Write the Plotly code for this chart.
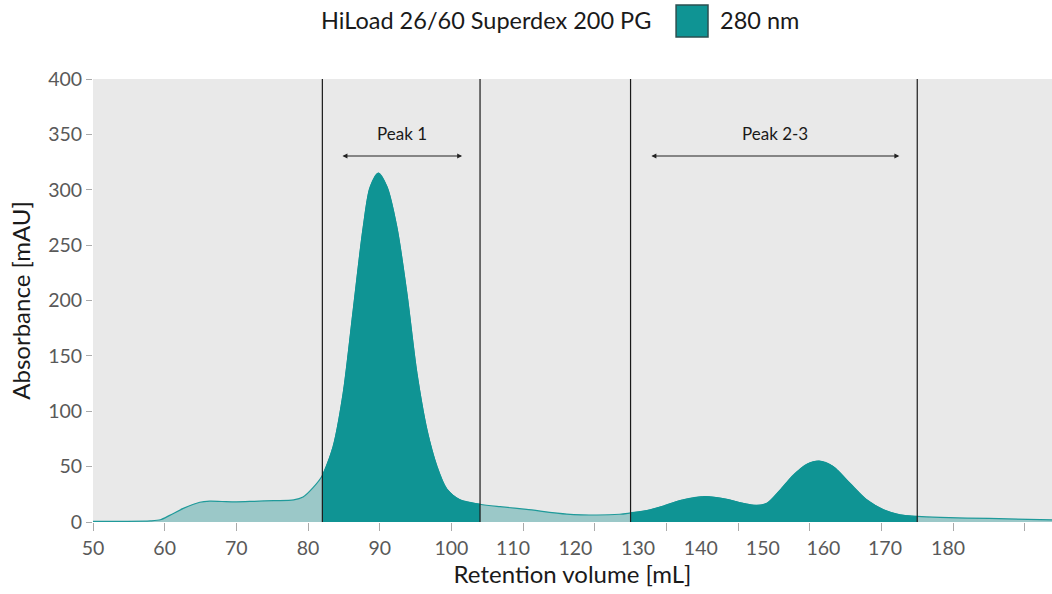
import plotly.graph_objects as go

# Chromatogram trace (retention volume in mL, absorbance at 280 nm in mAU)
volume_ml = [50, 54, 58, 59.4, 60.7, 62.6, 64.9, 66.3, 68, 70, 72.5, 75.2, 78, 79.3, 80.7,
             82, 83.5, 84.9, 86.3, 87.7, 88.65, 89.8, 91, 92.4, 93.8, 95.2, 96.6, 98, 99.35,
             101.2, 104, 106.8, 110.5, 116.1, 120.3, 123.5,
             125, 127.25, 129.6, 131.9, 135.4, 138.4, 140.7, 142.6, 144, 145.85, 147.7, 149.6,
             151.3, 153.3, 155.6, 157.95, 160.3, 162.6, 165, 168.2, 175, 183.8]
absorbance_mau = [0.5, 0.6, 1.0, 2, 6, 12.3, 17.8, 18.8, 18.5, 18.2, 18.7, 19.3, 19.9, 22.5, 31,
                  42, 68, 116, 191, 266, 302, 315, 303, 266, 206, 134, 83, 50, 30,
                  20, 16, 13.8, 11.4, 7.2, 6.3, 7.0,
                  8.2, 10.2, 14.4, 19.3, 22.9, 20.5, 16.8, 15, 16.8, 28.7, 42.2, 52.1,
                  55, 50, 35, 20, 11, 6.4, 5, 4.1, 3.2, 2.0]

# Collected fractions (start, end) in mL
fraction_bounds = [(82, 104), (125, 165)]
fraction_names = ["Peak 1", "Peak 2-3"]
# Extent of the double arrows drawn over each fraction
arrow_spans = [(84.6, 101.5), (127.7, 162.5)]

# Axis ticks and the printed tick labels
tick_marks = [50, 60, 70, 80, 90, 100, 110, 120, 130, 140, 150, 160, 170, 180]
label_text = ["50", "60", "70", "80", "90", "100", "110", "120", "130", "140", "150", "160", "170", "180"]
label_pos = [50, 60, 70, 80, 90, 100, 108.6, 117.3, 126.05, 134.8, 143.45, 151.9, 160.5, 169.3]
y_ticks = [0, 50, 100, 150, 200, 250, 300, 350, 400]

X_RANGE = [50, 183.8]
Y_RANGE = [0, 400]

DARK = "#0f9494"
LIGHT = "rgba(60,160,160,0.45)"
LINE = "#1f9a9a"
FONT = "Lato, 'Open Sans', sans-serif"

fig = go.Figure()

# whole curve with light fill
fig.add_trace(go.Scatter(
    x=volume_ml, y=absorbance_mau, mode="lines",
    line=dict(color=LINE, width=1.2, shape="spline", smoothing=0.8),
    fill="tozeroy", fillcolor=LIGHT, showlegend=False, hoverinfo="skip"))

# collected fractions in solid teal
for lo, hi in fraction_bounds:
    xs = [v for v in volume_ml if lo <= v <= hi]
    ys = [a for v, a in zip(volume_ml, absorbance_mau) if lo <= v <= hi]
    fig.add_trace(go.Scatter(
        x=xs, y=ys, mode="lines",
        line=dict(color=DARK, width=1.0, shape="spline", smoothing=0.8),
        fill="tozeroy", fillcolor=DARK, showlegend=False, hoverinfo="skip"))

# invisible carrier trace for the label axis
fig.add_trace(go.Scatter(x=X_RANGE, y=[0, 0], xaxis="x2", mode="lines",
                         line=dict(width=0), showlegend=False, hoverinfo="skip"))

# fraction boundaries
for lo, hi in fraction_bounds:
    for v in (lo, hi):
        fig.add_shape(type="line", xref="x", yref="paper", x0=v, x1=v, y0=0, y1=1,
                      line=dict(color="#1a1a1a", width=1.2), layer="above")

# fraction names with double arrows
for name, (a0, a1) in zip(fraction_names, arrow_spans):
    fig.add_annotation(x=a1, y=330.5, ax=a0, ay=330.5, xref="x", yref="y", axref="x", ayref="y",
                       text="", showarrow=True, arrowhead=2, startarrowhead=2, arrowside="end+start",
                       arrowsize=0.9, startarrowsize=0.9, arrowwidth=1.1, arrowcolor="#222",
                       standoff=0, startstandoff=0)
    fig.add_annotation(x=(a0 + a1) / 2, y=351, xref="x", yref="y", text=name, showarrow=False,
                       font=dict(family=FONT, size=17, color="#1a1a1a"))

# header with legend swatch
fig.add_annotation(x=0.584, y=1.133, xref="paper", yref="paper", xanchor="right", yanchor="middle",
                   text="HiLoad 26/60 Superdex 200 PG", showarrow=False,
                   font=dict(family=FONT, size=23.5, color="#1a1a1a"))
fig.add_shape(type="rect", xref="paper", yref="paper", x0=0.608, x1=0.6413, y0=1.095, y1=1.167,
              fillcolor=DARK, line=dict(color="#2b4f50", width=1.5))
fig.add_annotation(x=0.6517, y=1.133, xref="paper", yref="paper", xanchor="left", yanchor="middle",
                   text="280 nm", showarrow=False,
                   font=dict(family=FONT, size=23.5, color="#1a1a1a"))

fig.update_layout(
    width=1052, height=594,
    margin=dict(l=93, r=0, t=79, b=72),
    paper_bgcolor="white", plot_bgcolor="#e9e9e9",
    font=dict(family=FONT, size=19.5, color="#595959"),
    xaxis=dict(range=X_RANGE, tickvals=tick_marks, showticklabels=False,
               ticks="outside", ticklen=8, tickcolor="#aaaaaa", tickwidth=1,
               showgrid=False, zeroline=False, showline=False, fixedrange=True),
    xaxis2=dict(range=X_RANGE, overlaying="x", side="bottom", anchor="y",
                tickvals=label_pos, ticktext=label_text,
                ticks="outside", ticklen=9, tickcolor="rgba(0,0,0,0)",
                showgrid=False, zeroline=False, showline=False,
                tickfont=dict(family=FONT, size=19.5, color="#595959"),
                title=dict(text="Retention volume [mL]", standoff=6,
                           font=dict(family=FONT, size=24, color="#1a1a1a"))),
    yaxis=dict(range=Y_RANGE, tickvals=y_ticks, ticks="outside", ticklen=6,
               tickcolor="#aaaaaa", showgrid=False, zeroline=False, showline=False,
               tickfont=dict(family=FONT, size=19.5, color="#595959"),
               title=dict(text="Absorbance [mAU]", standoff=10,
                          font=dict(family=FONT, size=24, color="#1a1a1a"))),
)

fig.write_html("out.html")
